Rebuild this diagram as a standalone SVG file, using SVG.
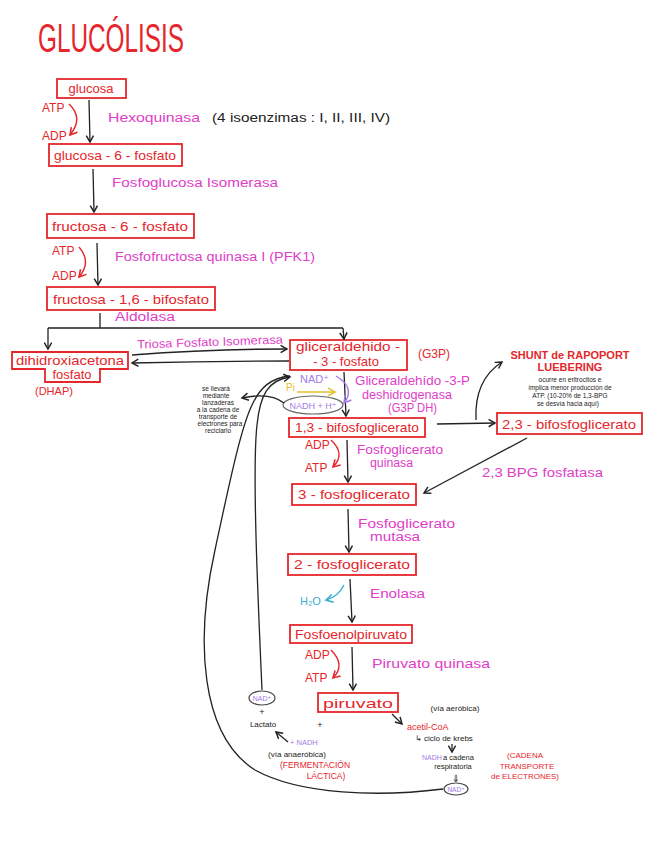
<svg xmlns="http://www.w3.org/2000/svg" width="656" height="848" viewBox="0 0 656 848">
<defs>
<marker id="ak" viewBox="0 0 10 10" refX="8" refY="5" markerWidth="7" markerHeight="7" orient="auto-start-reverse"><path d="M1,1 L8,5 L1,9" fill="none" stroke="#222" stroke-width="1.6"/></marker>
<marker id="ar" viewBox="0 0 10 10" refX="8" refY="5" markerWidth="7" markerHeight="7" orient="auto"><path d="M1,1 L8,5 L1,9" fill="none" stroke="#e5262b" stroke-width="1.6"/></marker>
<marker id="ap" viewBox="0 0 10 10" refX="8" refY="5" markerWidth="7" markerHeight="7" orient="auto"><path d="M1,1 L8,5 L1,9" fill="none" stroke="#a47be6" stroke-width="1.6"/></marker>
<marker id="ay" viewBox="0 0 10 10" refX="8" refY="5" markerWidth="7" markerHeight="7" orient="auto"><path d="M1,1 L8,5 L1,9" fill="none" stroke="#e6c02a" stroke-width="1.6"/></marker>
<marker id="ac" viewBox="0 0 10 10" refX="8" refY="5" markerWidth="7" markerHeight="7" orient="auto"><path d="M1,1 L8,5 L1,9" fill="none" stroke="#3aaed0" stroke-width="1.6"/></marker>
</defs>
<style>
text{font-family:"Liberation Sans","DejaVu Sans",sans-serif}
.box{fill:none;stroke:#e5262b;stroke-width:1.8}
.bt{fill:#e5262b;font-size:13px;text-anchor:middle}
.red{fill:#e5262b}
.mag{fill:#e03dc8;font-size:12px}
.blk{fill:#222}
.pur{fill:#a47be6}
.sm{font-size:6.5px;fill:#222;text-anchor:middle}
.ln{fill:none;stroke:#222;stroke-width:1.3}
.rl{fill:none;stroke:#e5262b;stroke-width:1.4}
</style>
<rect width="656" height="848" fill="#fff"/>
<text x="38" y="52" font-size="40" fill="#e5262b" font-family="Lato, 'Open Sans', 'Liberation Sans', sans-serif" font-weight="300" textLength="146" lengthAdjust="spacingAndGlyphs">GLUCÓLISIS</text>

<g id="glucosa"><rect class="box" x="57" y="79" width="69" height="19"/><text class="bt" x="91" y="93">glucosa</text></g>
<g id="g6p"><rect class="box" x="49" y="144" width="133" height="22"/><text class="bt" x="115" y="160" textLength="122" lengthAdjust="spacingAndGlyphs">glucosa - 6 - fosfato</text></g>
<g id="f6p"><rect class="box" x="47" y="214" width="147" height="24"/><text class="bt" x="120" y="231" textLength="136" lengthAdjust="spacingAndGlyphs">fructosa - 6 - fosfato</text></g>
<g id="f16bp"><rect class="box" x="47" y="287" width="168" height="23"/><text class="bt" x="131" y="304" textLength="156" lengthAdjust="spacingAndGlyphs">fructosa - 1,6 - bifosfato</text></g>
<g id="dhap"><path class="box" d="M12,352 H128 V369 H100 V382 H45 V369 H12 Z"/><text class="bt" x="70" y="365" font-size="12" textLength="108" lengthAdjust="spacingAndGlyphs">dihidroxiacetona</text><text class="bt" x="72" y="379" font-size="12">fosfato</text><text class="red" x="35" y="395" font-size="11">(DHAP)</text></g>
<g id="g3p"><rect class="box" x="290" y="340" width="117" height="30"/><text class="bt" x="348" y="350.5" font-size="10" textLength="104" lengthAdjust="spacingAndGlyphs">gliceraldehido -</text><text class="bt" x="346" y="366" font-size="10">- 3 - fosfato</text><text class="red" x="418" y="358" font-size="12">(G3P)</text></g>
<g id="bpg13"><rect class="box" x="289" y="418" width="136" height="19"/><text class="bt" x="357" y="432" textLength="124" lengthAdjust="spacingAndGlyphs">1,3 - bifosfoglicerato</text></g>
<g id="bpg23"><rect class="box" x="497" y="413" width="145" height="21"/><text class="bt" x="569" y="429" font-size="14" textLength="134" lengthAdjust="spacingAndGlyphs">2,3 - bifosfoglicerato</text></g>
<g id="pg3"><rect class="box" x="292" y="484" width="124" height="21"/><text class="bt" x="354" y="499" textLength="112" lengthAdjust="spacingAndGlyphs">3 - fosfoglicerato</text></g>
<g id="pg2"><rect class="box" x="288" y="554" width="128" height="21"/><text class="bt" x="352" y="569" textLength="116" lengthAdjust="spacingAndGlyphs">2 - fosfoglicerato</text></g>
<g id="pep"><rect class="box" x="290" y="625" width="122" height="18"/><text class="bt" x="351" y="639" textLength="112" lengthAdjust="spacingAndGlyphs">Fosfoenolpiruvato</text></g>
<g id="piruvato"><rect class="box" x="318" y="693" width="80" height="19"/><text class="bt" x="358" y="708" font-size="14" textLength="70" lengthAdjust="spacingAndGlyphs">piruvato</text></g>

<g id="labels">
<text class="red" x="42" y="112" font-size="12">ATP</text>
<text class="red" x="42" y="140" font-size="12">ADP</text>
<text class="mag" x="108" y="122" textLength="92" lengthAdjust="spacingAndGlyphs">Hexoquinasa</text>
<text class="blk" x="212" y="122" font-size="12" textLength="178" lengthAdjust="spacingAndGlyphs">(4 isoenzimas : I, II, III, IV)</text>
<text class="mag" x="112" y="187" textLength="166" lengthAdjust="spacingAndGlyphs">Fosfoglucosa  Isomerasa</text>
<text class="red" x="52" y="255" font-size="12">ATP</text>
<text class="red" x="52" y="280" font-size="12">ADP</text>
<text class="mag" x="115" y="261" textLength="200" lengthAdjust="spacingAndGlyphs">Fosfofructosa quinasa I (PFK1)</text>
<text class="mag" x="115" y="321" textLength="60" lengthAdjust="spacingAndGlyphs">Aldolasa</text>
<text class="mag" x="137" y="346" font-size="11" textLength="146" lengthAdjust="spacingAndGlyphs" transform="rotate(-2 210 343)">Triosa Fosfato Isomerasa</text>
<text class="pur" x="300" y="383" font-size="11">NAD⁺</text>
<text x="286" y="391" font-size="10" fill="#e6c02a">Pi</text>
<ellipse cx="313" cy="405" rx="30" ry="9" fill="none" stroke="#666" stroke-width="1.2"/>
<text class="pur" x="313" y="409" font-size="9" text-anchor="middle">NADH + H⁺</text>
<text class="mag" x="355" y="385" font-size="11.5" textLength="115" lengthAdjust="spacingAndGlyphs">Gliceraldehído -3-P</text>
<text class="mag" x="362" y="399" font-size="11.5" textLength="90" lengthAdjust="spacingAndGlyphs">deshidrogenasa</text>
<text class="mag" x="388" y="412" font-size="11.5" textLength="49" lengthAdjust="spacingAndGlyphs">(G3P DH)</text>
<text class="sm" x="216" y="391">se llevará</text>
<text class="sm" x="216" y="398">mediante</text>
<text class="sm" x="218" y="405">lanzaderas</text>
<text class="sm" x="218" y="412">a la cadena de</text>
<text class="sm" x="218" y="419">transporte de</text>
<text class="sm" x="220" y="426">electrones para</text>
<text class="sm" x="218" y="433">reciclarlo</text>
<text x="570" y="359" font-size="11" fill="#e5262b" text-anchor="middle" font-weight="bold">SHUNT de RAPOPORT</text>
<text x="570" y="371" font-size="11" fill="#e5262b" text-anchor="middle" font-weight="bold">LUEBERING</text>
<text class="sm" x="570" y="382" font-size="7">ocurre en eritrocitos e</text>
<text class="sm" x="570" y="390" font-size="7">implica menor producción de</text>
<text class="sm" x="570" y="398" font-size="7">ATP. (10-20% de 1,3-BPG</text>
<text class="sm" x="568" y="406" font-size="7">se desvía hacia aquí)</text>
<text class="red" x="305" y="449" font-size="12">ADP</text>
<text class="red" x="305" y="472" font-size="12">ATP</text>
<text class="mag" x="357" y="454" textLength="86" lengthAdjust="spacingAndGlyphs">Fosfoglicerato</text>
<text class="mag" x="370" y="467" textLength="43" lengthAdjust="spacingAndGlyphs">quinasa</text>
<text class="mag" x="482" y="477" textLength="121" lengthAdjust="spacingAndGlyphs">2,3 BPG fosfatasa</text>
<text class="mag" x="358" y="528" textLength="97" lengthAdjust="spacingAndGlyphs">Fosfoglicerato</text>
<text class="mag" x="370" y="541" textLength="50" lengthAdjust="spacingAndGlyphs">mutasa</text>
<text x="300" y="605" font-size="11" fill="#3aaed0">H₂O</text>
<text class="mag" x="370" y="598" textLength="55" lengthAdjust="spacingAndGlyphs">Enolasa</text>
<text class="red" x="305" y="659" font-size="12">ADP</text>
<text class="red" x="305" y="682" font-size="12">ATP</text>
<text class="mag" x="372" y="668" textLength="118" lengthAdjust="spacingAndGlyphs">Piruvato quinasa</text>
<ellipse cx="262" cy="698" rx="13" ry="7" fill="none" stroke="#444" stroke-width="1.2"/>
<text class="pur" x="262" y="701" font-size="7" text-anchor="middle">NAD⁺</text>
<text class="blk" x="262" y="715" font-size="9" text-anchor="middle">+</text>
<text class="blk" x="263" y="727" font-size="8" text-anchor="middle">Lactato</text>
<text class="blk" x="320" y="728" font-size="9" text-anchor="middle">+</text>
<text class="pur" x="290" y="745" font-size="7.5">+ NADH</text>
<text class="blk" x="297" y="757" font-size="8" text-anchor="middle">(vía anaeróbica)</text>
<text class="red" x="315" y="768" font-size="8.5" text-anchor="middle">(FERMENTACIÓN</text>
<text class="red" x="326" y="779" font-size="8.5" text-anchor="middle">LÁCTICA)</text>
<text class="blk" x="455" y="711" font-size="8" text-anchor="middle">(vía aeróbica)</text>
<text class="red" x="407" y="730" font-size="9">acetil-CoA</text>
<text class="blk" x="415" y="741" font-size="8">↳ ciclo de krebs</text>
<text class="pur" x="422" y="760" font-size="7">NADH</text>
<text class="blk" x="443" y="760" font-size="7.5">a cadena</text>
<text class="blk" x="453" y="769" font-size="7.5" text-anchor="middle">respiratoria</text>
<text class="blk" x="456" y="782" font-size="10" text-anchor="middle">⇓</text>
<ellipse cx="456" cy="789" rx="12" ry="6" fill="none" stroke="#444" stroke-width="1.2"/>
<text class="pur" x="456" y="792" font-size="6.5" text-anchor="middle">NAD⁺</text>
<text class="red" x="525" y="758" font-size="8" text-anchor="middle">(CADENA</text>
<text class="red" x="527" y="769" font-size="8" text-anchor="middle">TRANSPORTE</text>
<text class="red" x="525" y="779" font-size="8" text-anchor="middle">de ELECTRONES)</text>
</g>

<g id="connectors">
<path class="ln" d="M89,100 L90,142" marker-end="url(#ak)"/>
<path class="ln" d="M93,169 L94,212" marker-end="url(#ak)"/>
<path class="ln" d="M97,243 L98,285" marker-end="url(#ak)"/>
<path class="ln" d="M100,313 L100,328"/>
<path class="ln" d="M48,328 H343"/>
<path class="ln" d="M48,328 L48,349" marker-end="url(#ak)"/>
<path class="ln" d="M343,328 L344,339" marker-end="url(#ak)"/>
<path class="ln" d="M132,355 Q210,349 287,349" marker-end="url(#ak)"/>
<path class="ln" d="M289,361 Q210,361 132,363" marker-end="url(#ak)"/>
<path class="ln" d="M344,372 L346,416" marker-end="url(#ak)"/>
<path class="ln" d="M437,424 L495,423" marker-end="url(#ak)"/>
<path class="ln" d="M476,420 Q474,380 502,362" marker-end="url(#ak)"/>
<path class="ln" d="M347,440 L348,482" marker-end="url(#ak)"/>
<path class="ln" d="M527,438 L424,493" marker-end="url(#ak)"/>
<path class="ln" d="M348,509 L349,552" marker-end="url(#ak)"/>
<path class="ln" d="M350,579 L352,622" marker-end="url(#ak)"/>
<path class="ln" d="M352,647 L353,690" marker-end="url(#ak)"/>
<path class="ln" d="M392,714 L402,724" marker-end="url(#ak)"/>
<path class="ln" d="M452,744 L452,752" marker-end="url(#ak)"/>
<path class="ln" d="M288,742 L276,732" marker-end="url(#ak)"/>
<path class="ln" d="M284,403 Q270,392 242,398" marker-end="url(#ak)"/>
<path class="ln" d="M262,690 C258,600 252,470 257,425 C260,395 268,380 290,377" marker-end="url(#ak)"/>
<path class="ln" d="M443,789 C380,797 300,795 255,770 C200,735 195,640 215,550 C228,490 240,430 252,405 C260,388 270,378 290,376"/>
<path class="rl" d="M69,104 Q84,118 70,135" marker-end="url(#ar)"/>
<path class="rl" d="M79,247 Q92,262 79,277" marker-end="url(#ar)"/>
<path class="rl" d="M331,440 Q346,454 333,467" marker-end="url(#ar)"/>
<path class="rl" d="M331,650 Q346,665 333,678" marker-end="url(#ar)"/>
<path fill="none" stroke="#e6c02a" stroke-width="1.4" d="M297,392 H335" marker-end="url(#ay)"/>
<path fill="none" stroke="#a47be6" stroke-width="1.4" d="M336,376 Q356,388 344,403" marker-end="url(#ap)"/>
<path fill="none" stroke="#3aaed0" stroke-width="1.4" d="M344,585 Q338,597 326,600" marker-end="url(#ac)"/>
</g>
</svg>
